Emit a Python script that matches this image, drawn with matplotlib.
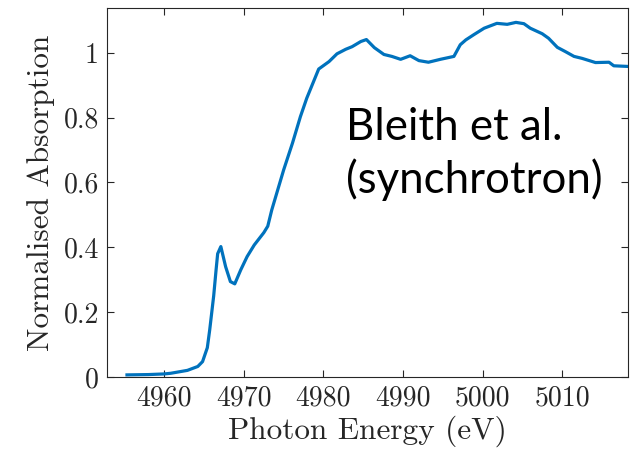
import matplotlib
matplotlib.use("Agg")
import matplotlib.pyplot as plt

# XANES spectrum (photon energy in eV, normalised absorption)
energy = [4955.3, 4958.0, 4960.0, 4960.8, 4962.9, 4964.2, 4964.8, 4965.4, 4965.7,
          4966.2, 4966.5, 4966.7, 4967.1, 4967.7, 4968.3, 4968.85, 4969.6, 4970.4,
          4971.3, 4972.5, 4973.0, 4973.5, 4975.0, 4976.1, 4977.1, 4977.9, 4979.4,
          4980.7, 4981.7, 4982.8, 4983.6, 4984.7, 4985.4, 4986.4, 4987.6, 4988.6,
          4989.7, 4990.9, 4992.0, 4993.2, 4994.7, 4996.4, 4997.2, 4997.9, 4998.9,
          5000.2, 5001.8, 5003.1, 5004.2, 5005.2, 5006.0, 5007.5, 5008.3, 5009.4,
          5010.4, 5011.5, 5012.5, 5014.2, 5015.9, 5016.5, 5018.3]
absorption = [0.006, 0.007, 0.009, 0.011, 0.020, 0.032, 0.047, 0.090, 0.145,
              0.250, 0.330, 0.380, 0.402, 0.340, 0.294, 0.287, 0.330, 0.371,
              0.407, 0.445, 0.465, 0.515, 0.639, 0.721, 0.803, 0.860, 0.950,
              0.973, 0.997, 1.011, 1.019, 1.035, 1.041, 1.016, 0.995, 0.989,
              0.980, 0.991, 0.976, 0.971, 0.980, 0.989, 1.025, 1.040, 1.056,
              1.076, 1.091, 1.088, 1.094, 1.090, 1.076, 1.059, 1.045, 1.017,
              1.004, 0.989, 0.983, 0.970, 0.971, 0.960, 0.958]

x_ticks = [4960, 4970, 4980, 4990, 5000, 5010]
y_ticks = [0, 0.2, 0.4, 0.6, 0.8, 1.0]
y_tick_labels = ["0", "0.2", "0.4", "0.6", "0.8", "1"]
note_lines = ["Bleith et al.", "(synchrotron)"]

plt.rcParams["font.family"] = "cmr10"
plt.rcParams["axes.formatter.use_mathtext"] = True

axis_grey = "#262626"

fig = plt.figure(figsize=(6.3, 4.59), dpi=100)
ax = fig.add_axes([0.170, 0.179, 0.827, 0.804])

ax.plot(energy, absorption, color="#0072BD", lw=2.3, solid_joinstyle="round")

ax.set_xlim(4952.8, 5018.3)
ax.set_ylim(0, 1.139)
ax.set_xticks(x_ticks)
ax.set_xticklabels([str(t) for t in x_ticks])
ax.set_yticks(y_ticks)
ax.set_yticklabels(y_tick_labels)

ax.tick_params(direction="in", length=5, width=0.8, top=True, right=True,
               labelsize=20, colors=axis_grey, pad=6)
for spine in ax.spines.values():
    spine.set_color(axis_grey)
    spine.set_linewidth(0.8)

ax.set_xlabel("Photon Energy (eV)", fontsize=22.5, color=axis_grey, labelpad=3)
ax.set_ylabel("Normalised Absorption", fontsize=22.5, color=axis_grey, labelpad=6)

# two-line note, each line placed on its own baseline
for line, y in zip(note_lines, [0.731, 0.568]):
    ax.text(4982.8, y, line, family="Lato", fontsize=31.5, color="black",
            ha="left", va="baseline")

fig.savefig("out.png", dpi=100)
